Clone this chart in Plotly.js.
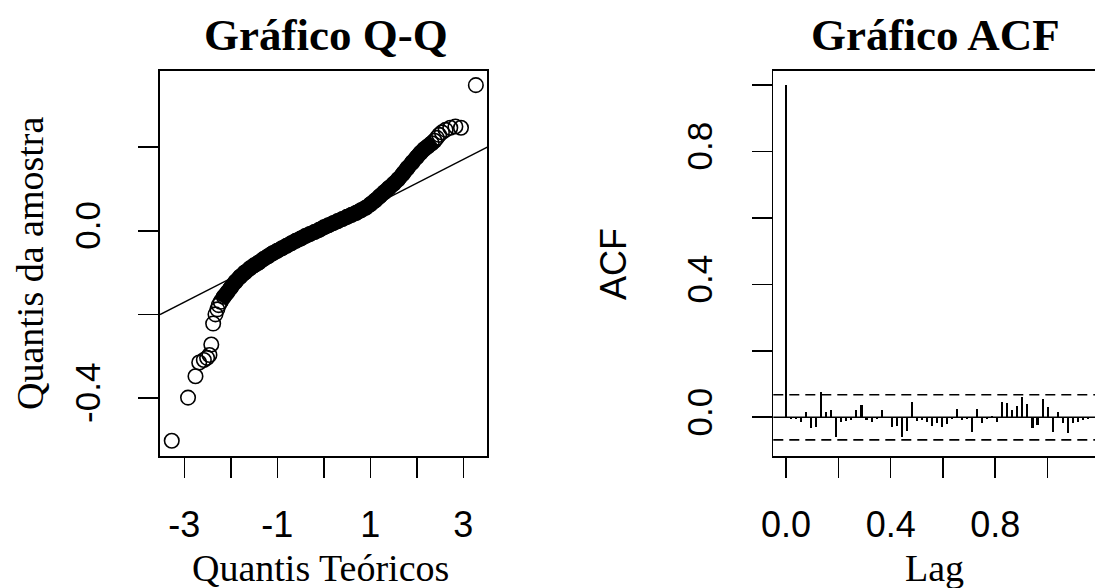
<!DOCTYPE html>
<html>
<head>
<meta charset="utf-8">
<script src="https://cdn.plot.ly/plotly-3.0.1.min.js"></script>
<style>
html,body{margin:0;padding:0;overflow:hidden;background:#fff;width:1095px;height:588px}
#chart{width:1100px;height:588px}
</style>
</head>
<body>
<div id="chart"></div>
<script>
// ---------- Q-Q plot data (theoretical quantile, sample quantile) ----------
const qqLowTailTheo   = [-3.27,-2.92,-2.76,-2.68,-2.58,-2.51,-2.46,-2.42,-2.38,-2.33,-2.29,-2.26];
const qqLowTailSample = [-0.502,-0.399,-0.348,-0.315,-0.309,-0.304,-0.297,-0.272,-0.222,-0.200,-0.188,-0.178];

const qqBandTheo = [-2.22,-2.15,-2.08,-2.00,-1.90,-1.80,-1.70,-1.59,-1.50,-1.40,-1.30,-1.20,-1.10,-1.00,
  -0.90,-0.80,-0.70,-0.60,-0.50,-0.40,-0.30,-0.20,-0.10,0.00,0.10,0.20,0.30,0.40,0.50,0.60,0.70,0.80,
  0.90,1.00,1.10,1.20,1.30,1.40,1.50,1.60,1.70,1.80,1.90,2.00,2.08,2.16,2.24,2.32,2.38];
const qqBandSample = [-0.170,-0.158,-0.148,-0.136,-0.122,-0.110,-0.100,-0.090,-0.083,-0.076,-0.068,-0.061,-0.054,-0.048,
  -0.042,-0.036,-0.030,-0.024,-0.019,-0.013,-0.008,-0.003,0.002,0.008,0.013,0.018,0.023,0.028,0.033,0.038,0.043,0.049,
  0.055,0.063,0.072,0.082,0.092,0.102,0.112,0.123,0.136,0.150,0.163,0.176,0.186,0.195,0.202,0.209,0.215];

const qqHighTailTheo   = [2.43,2.48,2.54,2.62,2.72,2.83,2.95,3.27];
const qqHighTailSample = [0.222,0.229,0.235,0.241,0.246,0.249,0.246,0.348];

const qqLineIntercept = 0.0;
const qqLineSlope = 0.0569;

const qqXTicks = [-3,-2,-1,0,1,2,3];
const qqXTickText = ['-3','','-1','','1','','3'];
const qqYTicks = [-0.4,-0.2,0.0,0.2];
const qqYTickText = ['-0.4','','0.0',''];

// ---------- ACF data ----------
const acfLag = [0,0.0192,0.0385,0.0577,0.0769,0.0962,0.1154,0.1346,0.1538,0.1731,0.1923,0.2115,0.2308,0.25,
  0.2692,0.2885,0.3077,0.3269,0.3462,0.3654,0.3846,0.4038,0.4231,0.4423,0.4615,0.4808,0.5,0.5192,0.5385,
  0.5577,0.5769,0.5962,0.6154,0.6346,0.6538,0.6731,0.6923,0.7115,0.7308,0.75,0.7692,0.7885,0.8077,0.8269,
  0.8462,0.8654,0.8846,0.9038,0.9231,0.9423,0.9615,0.9808,1.0,1.0192,1.0385,1.0577,1.0769,1.0962,1.1154,
  1.1346,1.1538,1.1731];
const acfValue = [1.000,-0.005,-0.004,-0.013,0.017,-0.031,-0.028,0.075,0.016,0.022,-0.060,-0.013,-0.011,-0.007,
  0.022,0.037,-0.008,-0.013,-0.005,0.022,-0.003,-0.030,-0.025,-0.058,-0.040,0.047,-0.011,-0.008,-0.013,
  -0.025,-0.018,-0.028,-0.020,-0.004,0.025,-0.008,-0.004,-0.043,0.025,-0.018,-0.004,0.003,-0.015,0.047,
  0.042,0.022,0.035,0.062,0.040,-0.033,-0.023,0.055,0.032,-0.043,0.017,-0.018,-0.048,-0.018,-0.013,
  -0.007,-0.005,-0.003];
const acfConfLimit = 0.068;

const acfTicks = [0,0.2,0.4,0.6,0.8,1.0];
const acfTickText = ['0.0','','0.4','','0.8',''];

// ---------- drawing ----------
const W = 1100, H = 588;
const fx = p => p / W;
const fy = p => 1 - p / H;

const serif = 'Liberation Serif, Times New Roman, serif';
const sans = 'Liberation Sans, Arial, sans-serif';

const qqXRange = [-3.523, 3.516];
const qqYRange = [-0.5386, 0.3818];
const lineX = [qqXRange[0], qqXRange[1]];
const lineY = lineX.map(v => qqLineIntercept + qqLineSlope * v);

const openCircle = {symbol:'circle-open', size:14.5, color:'#000', line:{width:1.6, color:'#000'}};

const traces = [
  {x: lineX, y: lineY, type:'scatter', mode:'lines', line:{color:'#000', width:1.4},
   xaxis:'x', yaxis:'y', hoverinfo:'skip'},
  {x: qqBandTheo, y: qqBandSample, type:'scatter', mode:'markers', marker: openCircle, xaxis:'x', yaxis:'y'},
  {x: qqBandTheo, y: qqBandSample, type:'scatter', mode:'lines',
   line:{color:'#000', width:15.5, shape:'spline', smoothing:0.6}, xaxis:'x', yaxis:'y'},
  {x: qqLowTailTheo, y: qqLowTailSample, type:'scatter', mode:'markers', marker: openCircle, xaxis:'x', yaxis:'y'},
  {x: qqHighTailTheo, y: qqHighTailSample, type:'scatter', mode:'markers', marker: openCircle, xaxis:'x', yaxis:'y'},
  {x: acfLag, y: acfValue, type:'bar', width:0.0078, marker:{color:'#000', line:{width:0}},
   xaxis:'x2', yaxis:'y2'}
];

const axisCommon = {
  showline:true, mirror:true, linecolor:'#000', linewidth:1.6,
  ticks:'outside', ticklen:20, tickwidth:1.6, tickcolor:'#000',
  showgrid:false, zeroline:false, fixedrange:true
};

const layout = {
  width: W, height: H,
  margin:{l:0, r:0, t:0, b:0},
  paper_bgcolor:'#fff', plot_bgcolor:'#fff',
  showlegend:false,
  bargap:0,
  xaxis: Object.assign({}, axisCommon, {
    domain:[fx(160), fx(487.3)], range: qqXRange, anchor:'y',
    tickmode:'array', tickvals: qqXTicks, ticktext: qqXTickText,
    tickfont:{family:sans, size:36, color:'#000'}, ticklabelstandoff: 16
  }),
  yaxis: Object.assign({}, axisCommon, {
    domain:[fy(456), fy(71)], range: qqYRange, anchor:'x',
    tickmode:'array', tickvals: qqYTicks, ticktext: qqYTickText, tickangle:-90,
    tickfont:{family:sans, size:35, color:'#000'}, ticklabelstandoff: 24
  }),
  xaxis2: Object.assign({}, axisCommon, {
    domain:[fx(773.3), fx(1097)], range:[-0.0487, 1.189], anchor:'y2',
    tickmode:'array', tickvals: acfTicks, ticktext: acfTickText,
    tickfont:{family:sans, size:36, color:'#000'}, ticklabelstandoff: 16
  }),
  yaxis2: Object.assign({}, axisCommon, {
    domain:[fy(456), fy(70.7)], range:[-0.1165, 1.043], anchor:'x2',
    tickmode:'array', tickvals: acfTicks, ticktext: acfTickText, tickangle:-90,
    tickfont:{family:sans, size:35, color:'#000'}, ticklabelstandoff: 26
  }),
  shapes: [
    {type:'line', xref:'x2 domain', yref:'y2', x0:0, x1:1, y0:0, y1:0, line:{color:'#000', width:1.6}},
    {type:'line', xref:'x2 domain', yref:'y2', x0:0, x1:1, y0:acfConfLimit, y1:acfConfLimit,
     line:{color:'#000', width:1.6, dash:'10px,6px'}},
    {type:'line', xref:'x2 domain', yref:'y2', x0:0, x1:1, y0:-acfConfLimit, y1:-acfConfLimit,
     line:{color:'#000', width:1.6, dash:'10px,6px'}}
  ],
  annotations: [
    {text:'<b>Gráfico Q-Q</b>', xref:'paper', yref:'paper', x:fx(326), y:fy(35), xanchor:'center', yanchor:'middle',
     showarrow:false, font:{family:serif, size:45, color:'#000'}},
    {text:'<b>Gráfico ACF</b>', xref:'paper', yref:'paper', x:fx(935), y:fy(35), xanchor:'center', yanchor:'middle',
     showarrow:false, font:{family:serif, size:45, color:'#000'}},
    {text:'Quantis Teóricos', xref:'paper', yref:'paper', x:fx(320), y:fy(568), xanchor:'center', yanchor:'middle',
     showarrow:false, font:{family:serif, size:38, color:'#000'}},
    {text:'Quantis da amostra', xref:'paper', yref:'paper', x:fx(30), y:fy(263), xanchor:'center', yanchor:'middle',
     textangle:-90, showarrow:false, font:{family:serif, size:38, color:'#000'}},
    {text:'Lag', xref:'paper', yref:'paper', x:fx(934), y:fy(568), xanchor:'center', yanchor:'middle',
     showarrow:false, font:{family:serif, size:38, color:'#000'}},
    {text:'ACF', xref:'paper', yref:'paper', x:fx(613), y:fy(264), xanchor:'center', yanchor:'middle',
     textangle:-90, showarrow:false, font:{family:sans, size:36, color:'#000'}}
  ]
};

Plotly.newPlot('chart', traces, layout, {staticPlot:true, displayModeBar:false});
</script>
</body>
</html>
